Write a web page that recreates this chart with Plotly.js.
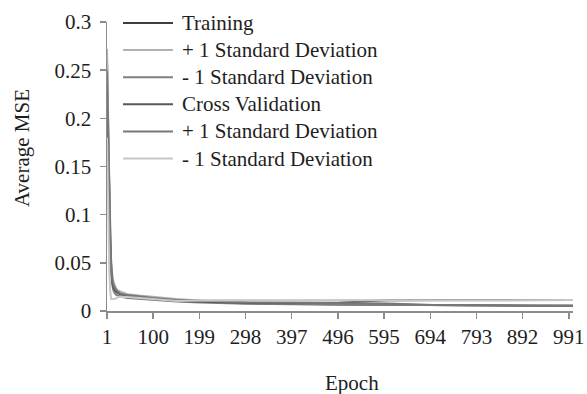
<!DOCTYPE html>
<html>
<head>
<meta charset="utf-8">
<script src="https://cdn.plot.ly/plotly-3.0.1.min.js"></script>
<style>html,body{margin:0;padding:0;background:#fff;}#chart{width:587px;height:394px;}</style>
</head>
<body>
<div id="chart"></div>
<script>
const epochs = [1, 2, 4, 6, 8, 10, 12, 15, 20, 25, 30, 45, 70, 100, 150, 200, 250, 300, 400, 500, 600, 700, 800, 900, 1000];

const trainingMSE   = [0.262, 0.235, 0.165, 0.105, 0.068, 0.046, 0.034, 0.026, 0.021, 0.019, 0.018, 0.016, 0.0145, 0.013, 0.011, 0.0095, 0.0085, 0.008, 0.0072, 0.0068, 0.0064, 0.006, 0.0057, 0.0056, 0.0055];
const trainingPlus  = [0.272, 0.245, 0.178, 0.115, 0.075, 0.052, 0.039, 0.030, 0.024, 0.021, 0.020, 0.0175, 0.016, 0.0145, 0.0125, 0.011, 0.0108, 0.0107, 0.0108, 0.011, 0.0112, 0.0113, 0.0113, 0.0113, 0.0113];
const trainingMinus = [0.25, 0.22, 0.15, 0.095, 0.06, 0.04, 0.028, 0.021, 0.017, 0.016, 0.015, 0.0135, 0.0125, 0.0115, 0.0098, 0.0088, 0.008, 0.0075, 0.007, 0.0066, 0.0062, 0.0058, 0.0056, 0.0055, 0.0055];
const cvMSE         = [0.2, 0.185, 0.14, 0.095, 0.062, 0.043, 0.031, 0.024, 0.02, 0.018, 0.017, 0.0155, 0.014, 0.0125, 0.0105, 0.0095, 0.009, 0.0085, 0.008, 0.0085, 0.0112, 0.0113, 0.0113, 0.0113, 0.0113];
const cvPlus        = [0.23, 0.21, 0.155, 0.1, 0.066, 0.046, 0.034, 0.027, 0.022, 0.02, 0.018, 0.0165, 0.015, 0.0135, 0.0115, 0.0105, 0.0095, 0.009, 0.0085, 0.008, 0.0078, 0.0062, 0.0056, 0.0055, 0.0055];
const cvMinus       = [0.18, 0.14, 0.08, 0.04, 0.02, 0.0125, 0.0122, 0.0125, 0.013, 0.0145, 0.0148, 0.0145, 0.0135, 0.012, 0.0105, 0.0108, 0.011, 0.011, 0.011, 0.0112, 0.0112, 0.0113, 0.0113, 0.0113, 0.0113];

const seriesNames = ['Training', '+ 1 Standard Deviation', '- 1 Standard Deviation', 'Cross Validation', '+ 1 Standard Deviation', '- 1 Standard Deviation'];
const seriesValues = [trainingMSE, trainingPlus, trainingMinus, cvMSE, cvPlus, cvMinus];
const seriesColors = ['#3f3f3f', '#b3b3b3', '#7f7f7f', '#595959', '#777777', '#c8c8c8'];

const xTickVals = [1, 100, 199, 298, 397, 496, 595, 694, 793, 892, 991];
const yTickVals = [0, 0.05, 0.1, 0.15, 0.2, 0.25, 0.3];
const yTickText = ['0', '0.05', '0.1', '0.15', '0.2', '0.25', '0.3'];

const FONT = '"Liberation Serif", "Times New Roman", serif';
const TXT = '#1e1e1e';

const W = 587, H = 394;
const M = {l: 107, r: 14, t: 22, b: 83};
const PW = W - M.l - M.r, PH = H - M.t - M.b;
const px2x = p => (p - M.l) / PW;
const px2y = p => (H - M.b - p) / PH;

const traces = seriesValues.map((vals, i) => ({
  x: epochs,
  y: vals,
  type: 'scatter',
  mode: 'lines',
  name: seriesNames[i],
  showlegend: false,
  line: {color: seriesColors[i], width: 2}
}));

// Legend drawn as paper-anchored swatches + text
const legendShapes = seriesNames.map((n, i) => {
  const yy = px2y(23 + 27.1 * i);
  return {type: 'line', xref: 'paper', yref: 'paper', x0: px2x(123), x1: px2x(173), y0: yy, y1: yy,
          line: {color: seriesColors[i], width: 2}};
});
const legendLabels = seriesNames.map((n, i) => ({
  text: n, xref: 'paper', yref: 'paper', x: px2x(180), y: px2y(23 + 27.1 * i),
  xanchor: 'left', yanchor: 'middle', showarrow: false,
  font: {family: FONT, size: 21, color: TXT}
}));

const layout = {
  width: W,
  height: H,
  margin: M,
  paper_bgcolor: '#ffffff',
  plot_bgcolor: '#ffffff',
  showlegend: false,
  font: {family: FONT, size: 21, color: TXT},
  xaxis: {
    type: 'linear',
    range: [1, 1000],
    tickvals: xTickVals,
    ticktext: xTickVals.map(String),
    ticks: 'outside',
    ticklen: 6,
    tickwidth: 1.5,
    tickcolor: '#8c8c8c',
    showline: true,
    linecolor: '#8c8c8c',
    linewidth: 1.5,
    showgrid: false,
    zeroline: false,
    tickfont: {family: FONT, size: 21, color: TXT}
  },
  yaxis: {
    range: [0, 0.3],
    tickvals: yTickVals,
    ticktext: yTickText,
    ticks: 'outside',
    ticklen: 6,
    tickwidth: 1.5,
    tickcolor: '#8c8c8c',
    ticklabelstandoff: 4,
    showline: true,
    linecolor: '#8c8c8c',
    linewidth: 1.5,
    showgrid: false,
    zeroline: false,
    tickfont: {family: FONT, size: 21, color: TXT}
  },
  shapes: legendShapes,
  annotations: [
    {text: 'Average MSE', xref: 'paper', yref: 'paper', x: px2x(22), y: px2y(148),
     xanchor: 'center', yanchor: 'middle', textangle: -90, showarrow: false,
     font: {family: FONT, size: 21, color: TXT}},
    {text: 'Epoch', xref: 'paper', yref: 'paper', x: px2x(352), y: px2y(383),
     xanchor: 'center', yanchor: 'middle', showarrow: false,
     font: {family: FONT, size: 21, color: TXT}}
  ].concat(legendLabels)
};

Plotly.newPlot('chart', traces, layout, {displayModeBar: false, staticPlot: true});
</script>
</body>
</html>
